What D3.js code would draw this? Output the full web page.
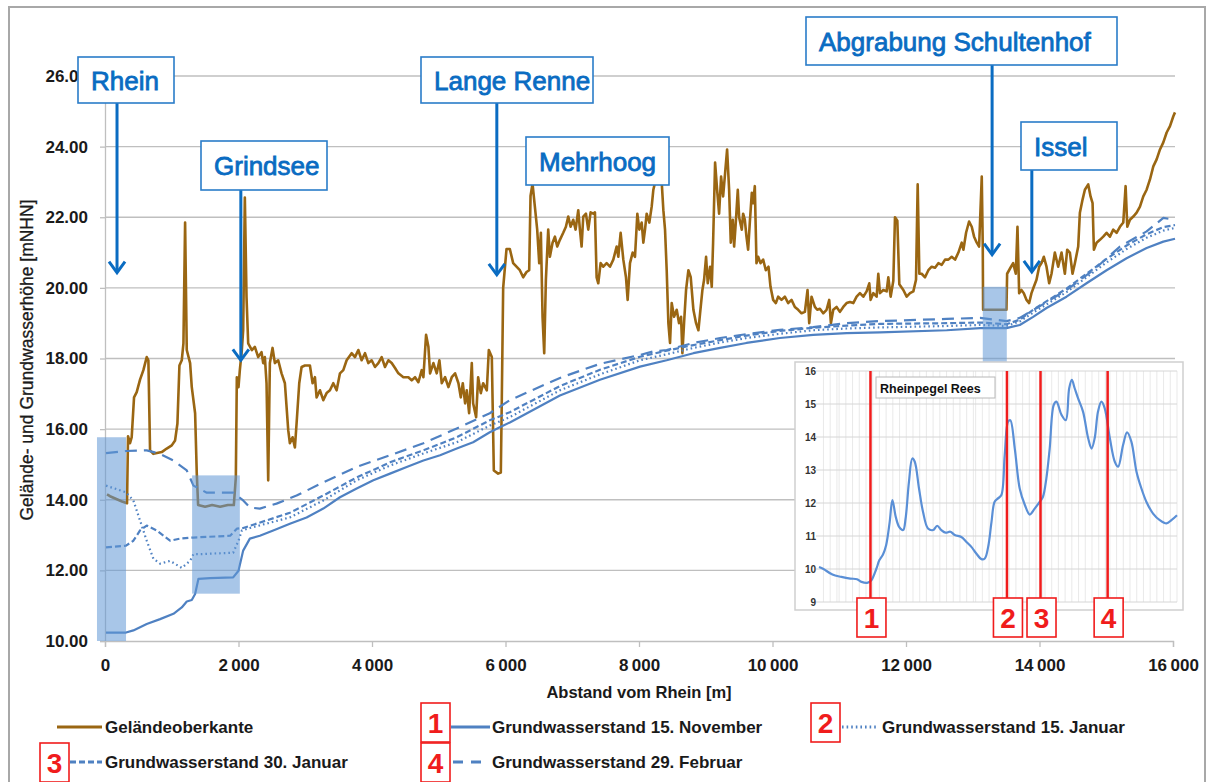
<!DOCTYPE html>
<html>
<head>
<meta charset="utf-8">
<script src="https://cdn.jsdelivr.net/npm/d3@7/dist/d3.min.js"></script>
<style>
  body { margin: 0; background: #fff; }
  svg { display: block; font-family: "Liberation Sans", Arial, sans-serif; }
</style>
</head>
<body>
<svg id="chart" width="1212" height="782"></svg>
<script>
// ---- data (distance from Rhine in m, elevation in mNHN) ----
const terrain = [[30,14.15],[75,14.1],[135,14.05],[195,14.0],[255,13.95],[330,13.9],[345,15.8],[375,15.6],[400,15.77],[435,16.9],[475,17.05],[525,17.4],[575,17.67],[625,18.04],[650,17.95],[675,15.4],[725,15.3],[850,15.35],[925,15.45],[1000,15.54],[1050,15.68],[1085,16.16],[1115,17.8],[1150,17.95],[1175,18.43],[1200,21.85],[1225,18.24],[1275,17.87],[1300,17.19],[1350,16.45],[1375,14.74],[1395,13.85],[1500,13.8],[1605,13.85],[1725,13.8],[1840,13.85],[1930,13.85],[1960,14.63],[1975,17.47],[2000,17.19],[2020,17.67],[2050,18.24],[2070,18.8],[2095,22.56],[2120,19.75],[2145,18.43],[2200,18.24],[2245,18.33],[2295,18.04],[2345,18.18],[2370,17.87],[2395,18.04],[2420,17.3],[2445,14.55],[2470,17.87],[2510,18.3],[2545,17.87],[2595,17.95],[2645,17.58],[2695,17.3],[2745,15.97],[2770,15.6],[2810,15.77],[2845,15.48],[2870,16.16],[2910,17.3],[2945,17.76],[2995,17.8],[3070,17.8],[3110,17.3],[3145,17.47],[3170,16.9],[3220,17.1],[3270,16.82],[3320,17.02],[3370,17.1],[3420,17.3],[3470,17.1],[3520,17.58],[3570,17.67],[3620,17.95],[3695,18.15],[3745,18.04],[3795,18.24],[3845,17.95],[3895,18.15],[3945,17.87],[3995,17.95],[4045,17.76],[4095,17.87],[4145,18.04],[4195,17.76],[4245,17.95],[4295,17.87],[4345,17.73],[4395,17.58],[4470,17.47],[4545,17.47],[4595,17.38],[4645,17.47],[4695,17.33],[4745,17.67],[4770,17.47],[4810,18.67],[4845,18.33],[4870,17.58],[4920,17.87],[4970,17.58],[5010,17.95],[5045,17.3],[5095,17.47],[5145,17.19],[5195,17.47],[5245,17.58],[5295,17.3],[5330,16.9],[5360,17.3],[5395,16.73],[5420,17.1],[5455,16.45],[5495,17.87],[5515,16.73],[5560,16.34],[5590,17.47],[5630,17.02],[5665,17.3],[5720,17.1],[5750,18.24],[5795,18.04],[5825,14.83],[5890,14.74],[5930,14.77],[5945,16.9],[5965,20.0],[6015,21.1],[6065,21.1],[6115,20.7],[6165,20.6],[6215,20.5],[6265,20.3],[6315,20.45],[6355,20.5],[6375,22.6],[6405,22.95],[6440,22.3],[6475,21.65],[6505,20.7],[6530,21.56],[6555,19.18],[6580,18.15],[6605,20.23],[6640,21.65],[6665,20.88],[6705,21.28],[6740,21.45],[6775,21.17],[6815,21.36],[6865,21.56],[6905,21.73],[6940,22.02],[6975,21.73],[7015,21.93],[7050,21.65],[7090,22.2],[7115,21.65],[7140,21.17],[7165,22.02],[7205,22.1],[7240,21.65],[7275,22.14],[7315,22.1],[7340,22.14],[7365,20.3],[7390,20.13],[7425,20.7],[7465,20.6],[7515,20.7],[7565,20.6],[7615,20.8],[7665,21.17],[7690,20.88],[7725,21.56],[7765,20.8],[7805,20.3],[7830,19.66],[7865,20.7],[7905,21.0],[7940,20.88],[7975,22.1],[8005,21.65],[8040,21.85],[8065,21.28],[8090,21.65],[8115,22.1],[8155,21.85],[8190,22.3],[8215,22.78],[8240,22.98],[8340,23.0],[8365,22.2],[8390,21.65],[8415,20.5],[8440,19.0],[8465,18.44],[8490,19.57],[8525,19.18],[8565,19.38],[8600,19.0],[8630,19.18],[8650,18.15],[8675,19.0],[8705,19.94],[8740,20.5],[8775,20.3],[8815,19.38],[8855,19.0],[8890,18.8],[8915,19.28],[8950,19.94],[8975,20.23],[9005,20.88],[9030,20.13],[9065,20.6],[9090,20.03],[9110,21.28],[9140,23.55],[9170,22.78],[9200,22.1],[9230,23.15],[9260,22.59],[9290,23.25],[9320,23.92],[9350,22.78],[9375,21.28],[9405,21.93],[9425,21.17],[9450,21.85],[9480,22.78],[9500,22.0],[9540,21.65],[9560,22.1],[9585,21.93],[9610,21.45],[9635,21.08],[9660,21.85],[9690,22.69],[9710,22.4],[9735,22.88],[9760,20.7],[9785,20.88],[9820,20.7],[9860,20.8],[9900,20.5],[9940,20.6],[9970,20.03],[10010,19.66],[10050,19.57],[10085,19.75],[10135,19.66],[10185,19.75],[10235,19.57],[10285,19.66],[10335,19.46],[10385,19.38],[10435,19.28],[10485,19.32],[10525,19.94],[10550,19.0],[10585,19.75],[10635,19.46],[10670,19.38],[10710,19.41],[10760,19.28],[10810,19.38],[10850,19.66],[10875,19.0],[10910,19.38],[10960,19.46],[11010,19.32],[11060,19.46],[11110,19.57],[11160,19.6],[11210,19.57],[11260,19.75],[11310,19.85],[11360,19.75],[11410,19.9],[11450,20.13],[11470,19.66],[11510,19.85],[11560,19.75],[11585,20.4],[11610,19.85],[11660,19.94],[11710,19.9],[11735,20.3],[11770,19.75],[11810,20.2],[11835,22.0],[11870,21.9],[11900,20.1],[11960,19.94],[12010,19.75],[12060,19.85],[12110,19.9],[12150,20.23],[12175,22.93],[12200,20.4],[12235,20.4],[12285,20.3],[12335,20.5],[12385,20.6],[12435,20.57],[12485,20.7],[12535,20.65],[12585,20.8],[12635,20.8],[12685,20.88],[12735,20.8],[12785,21.0],[12835,21.28],[12860,21.08],[12900,21.56],[12945,21.88],[12985,21.73],[13020,21.45],[13060,21.28],[13095,21.17],[13135,23.15],[13150,21.17],[13155,19.38],[13330,19.38],[13505,19.38],[13515,20.4],[13565,20.57],[13605,20.7],[13645,20.4],[13670,21.73],[13695,19.85],[13730,19.94],[13765,19.85],[13805,19.66],[13845,19.57],[13880,19.85],[13915,20.03],[13955,20.23],[13995,20.6],[14030,20.7],[14065,20.88],[14105,20.6],[14145,20.13],[14180,20.4],[14230,21.0],[14280,20.6],[14330,21.0],[14380,20.4],[14415,21.08],[14455,21.0],[14495,20.4],[14530,20.7],[14580,21.17],[14605,22.13],[14645,22.5],[14680,22.78],[14730,22.93],[14765,22.59],[14795,22.4],[14815,21.08],[14855,21.28],[14905,21.36],[14955,21.45],[15005,21.56],[15055,21.45],[15105,21.65],[15155,21.56],[15205,21.73],[15255,21.85],[15290,22.88],[15315,21.73],[15355,21.93],[15405,22.02],[15455,22.13],[15505,22.3],[15555,22.59],[15605,22.78],[15655,23.07],[15705,23.44],[15755,23.64],[15805,23.92],[15855,24.12],[15905,24.4],[15955,24.58],[16005,24.86],[16030,24.97]];

const gwNov15 = [[15,10.24],[315,10.24],[425,10.3],[625,10.48],[825,10.62],[1025,10.77],[1150,10.95],[1225,11.12],[1300,11.16],[1350,11.33],[1400,11.76],[1575,11.78],[1920,11.8],[2000,11.99],[2070,12.56],[2170,12.9],[2320,12.98],[2520,13.13],[2770,13.32],[3020,13.5],[3270,13.75],[3520,14.07],[3770,14.32],[4020,14.55],[4270,14.74],[4520,14.93],[4770,15.11],[5020,15.26],[5270,15.45],[5515,15.63],[5765,15.91],[5915,16.05],[6065,16.19],[6815,16.95],[7415,17.4],[8015,17.77],[8415,17.95],[8815,18.15],[9215,18.3],[9610,18.44],[10110,18.58],[10610,18.67],[11110,18.72],[11610,18.74],[12610,18.8],[13110,18.86],[13505,18.86],[13705,18.95],[13905,19.18],[14105,19.43],[14405,19.75],[14705,20.13],[15005,20.5],[15305,20.84],[15605,21.13],[15855,21.31],[16030,21.39]];

const gwJan15 = [[15,14.4],[315,14.21],[425,13.98],[525,13.41],[625,12.84],[725,12.33],[825,12.19],[975,12.27],[1150,12.07],[1275,12.27],[1325,12.46],[1425,12.46],[1920,12.5],[2000,12.84],[2050,13.13],[2170,13.2],[2770,13.5],[3270,13.98],[3770,14.55],[4270,14.97],[4770,15.31],[5270,15.63],[5765,16.1],[6065,16.34],[6815,17.1],[7415,17.55],[8015,17.95],[8415,18.12],[8815,18.3],[9215,18.45],[9610,18.58],[10110,18.7],[10610,18.8],[11110,18.85],[11610,18.88],[12610,18.92],[13110,18.95],[13505,18.92],[13705,19.05],[13905,19.3],[14405,19.88],[14705,20.3],[15005,20.72],[15305,21.1],[15605,21.42],[15855,21.62],[16030,21.7]];

const gwJan30 = [[15,12.65],[315,12.7],[425,12.84],[525,13.13],[625,13.27],[775,13.13],[975,12.84],[1125,12.9],[1325,12.93],[1875,12.98],[1975,13.18],[2070,13.2],[2770,13.63],[3270,14.12],[3770,14.63],[4270,15.06],[4770,15.4],[5270,15.77],[5765,16.25],[6065,16.48],[6815,17.22],[7415,17.68],[8015,18.05],[8415,18.22],[8815,18.38],[9215,18.52],[9610,18.65],[10110,18.78],[10610,18.87],[11110,18.93],[11610,18.98],[12610,19.0],[13110,19.02],[13505,18.97],[13705,19.1],[13905,19.38],[14405,19.98],[14705,20.4],[15005,20.82],[15305,21.2],[15605,21.52],[15855,21.72],[16030,21.78]];

const gwFeb29 = [[15,15.32],[315,15.38],[625,15.4],[825,15.3],[1025,15.11],[1225,14.83],[1325,14.4],[1525,14.2],[1920,14.2],[2070,13.98],[2170,13.78],[2320,13.75],[2570,13.89],[2870,14.12],[3270,14.49],[3770,14.93],[4270,15.26],[4770,15.6],[5270,16.02],[5765,16.45],[6065,16.82],[6815,17.45],[7415,17.85],[8015,18.1],[8215,18.2],[8415,18.24],[8815,18.44],[9215,18.58],[9610,18.69],[10110,18.81],[10610,18.89],[11110,19.0],[11610,19.06],[12610,19.12],[13110,19.15],[13505,19.06],[13705,19.15],[13995,19.47],[14405,19.94],[14805,20.5],[15205,21.17],[15605,21.6],[15855,21.98],[16030,21.93]];

// highlighted zones (m, mNHN)
const zones = [[-120, 315, 10, 15.77], [1305, 2020, 11.34, 14.69], [13150, 13510, 17.9, 20.03]];

// places marked above the profile: name, distance (m), arrow tip (mNHN)
const places = [["Rhein", 180, 20.43], ["Grindsee", 2035, 17.95], ["Lange Renne", 5870, 20.37],
  ["Mehrhoog", null, null], ["Abgrabung Schultenhof", 13290, 20.94], ["Issel", 13885, 20.45]];

const yTicks = [10, 12, 14, 16, 18, 20, 22, 24, 26];
const xTicks = [0, 2000, 4000, 6000, 8000, 10000, 12000, 14000, 16000];

// inset: Rhine gauge Rees, days after 2015-10-23 and water level (m)
const gaugeStart = "2015-10-23";
const gaugeDays = [0,2,6,10,14,17,19,21.5,23.4,25.6,27,28.6,30,31.6,32.8,34.3,35.8,37.6,38.7,40.2,41.7,42.8,44.7,46.5,48.7,51,52.8,54.7,56.6,58.7,60.7,63.6,65.9,68.1,70.3,72.6,74.1,75.6,77.1,78.5,80,81.5,83,84.5,85.5,87.5,89.7,92,94.2,96.4,98.7,100.1,101.6,103.1,104.9,106.1,108.4,110.3,111.8,113,114.3,115.8,118,120.3,121.8,123.2,124.7,126.2,127.7,130,132.2,133.7,135.9,137.7,139.6,141.9,144.1,146.3,149.3,152.3,155.3,157.5,160];
const gaugeLevels = [10.06,10.0,9.83,9.76,9.71,9.69,9.61,9.58,9.66,10.0,10.27,10.44,10.72,11.43,12.09,11.58,11.28,11.18,11.53,12.64,13.35,13.25,12.44,11.73,11.23,11.18,11.31,11.18,11.1,11.13,11.03,10.97,10.82,10.67,10.47,10.3,10.32,10.67,11.43,12.04,12.14,12.24,13.45,14.46,14.51,13.65,12.44,11.94,11.65,11.83,12.04,12.19,12.74,13.65,14.97,15.07,14.67,14.51,15.47,15.73,15.47,15.17,14.77,13.96,13.65,13.96,14.77,15.07,14.87,13.96,13.25,13.1,13.76,14.14,13.86,12.95,12.44,12.04,11.68,11.48,11.38,11.48,11.63];
const gaugeEnd = "2016-03-31";
const gaugeMarks = [["1", "2015-11-15"], ["2", "2016-01-15"], ["3", "2016-01-30"], ["4", "2016-02-29"]];
const gaugeTicks = [9, 10, 11, 12, 13, 14, 15, 16];

const legendNames = ["Geländeoberkante", "Grundwasserstand 15. November", "Grundwasserstand 15. Januar",
  "Grundwasserstand 30. Januar", "Grundwasserstand 29. Februar"];

// ---- styles ----
const BROWN = "#9a6612";
const BLUE = "#4f81c2";
const MARK = "#0a6cc2";
const RED = "#f01c1c";
const GRID = "#bfbfbf";

const series = [
  { data: terrain, color: BROWN, width: 2.6, dash: null },
  { data: gwNov15, color: BLUE, width: 2.2, dash: null },
  { data: gwJan15, color: BLUE, width: 2.2, dash: "1.6,3" },
  { data: gwJan30, color: BLUE, width: 2.2, dash: "6,3" },
  { data: gwFeb29, color: BLUE, width: 2.2, dash: "12,7" }
];

const svg = d3.select("#chart");

// outer frame
svg.append("rect").attr("x", 9).attr("y", 7).attr("width", 1196).attr("height", 790)
  .attr("fill", "none").attr("stroke", "#a8a8a8").attr("stroke-width", 2);

const x = d3.scaleLinear().domain([0, 16000]).range([105, 1173]);
const y = d3.scaleLinear().domain([10, 26]).range([641, 76]);

const de = d3.formatLocale({ decimal: ".", thousands: "\u2009", grouping: [3], currency: ["", ""] });

// gridlines
svg.append("g")
  .selectAll("line")
  .data(yTicks.slice(1))
  .join("line")
  .attr("x1", x(0)).attr("x2", x(16000) + 2)
  .attr("y1", d => y(d)).attr("y2", d => y(d))
  .attr("stroke", GRID).attr("stroke-width", 1.3);

// y axis
svg.append("g")
  .attr("transform", `translate(${x(0)},0)`)
  .call(d3.axisLeft(y).tickValues(yTicks).tickFormat(d3.format(".2f")).tickSize(5).tickPadding(12))
  .call(g => g.select(".domain").attr("stroke", GRID).attr("stroke-width", 1.3))
  .call(g => g.selectAll(".tick line").attr("stroke", GRID).attr("stroke-width", 1.3))
  .call(g => g.selectAll("text").attr("font-size", 17).attr("font-weight", "bold")
    .attr("fill", "#1a1a1a").attr("font-family", "Liberation Sans, Arial"));

// x axis
svg.append("g")
  .attr("transform", `translate(0,${y(10)})`)
  .call(d3.axisBottom(x).tickValues(xTicks).tickFormat(de.format(",d")).tickSize(6).tickPadding(12))
  .call(g => g.select(".domain").attr("stroke", GRID).attr("stroke-width", 1.3))
  .call(g => g.selectAll(".tick line").attr("stroke", GRID).attr("stroke-width", 1.3))
  .call(g => g.selectAll("text").attr("font-size", 17).attr("font-weight", "bold")
    .attr("fill", "#1a1a1a").attr("font-family", "Liberation Sans, Arial"));

// axis titles
svg.append("text")
  .attr("x", x(8000)).attr("y", 698)
  .attr("text-anchor", "middle").attr("font-size", 16.5).attr("font-weight", "bold")
  .attr("fill", "#1a1a1a").text("Abstand vom Rhein [m]");

svg.append("text")
  .attr("transform", "translate(33,360) rotate(-90)")
  .attr("text-anchor", "middle").attr("font-size", 17.5)
  .attr("fill", "#1a1a1a").attr("stroke", "#1a1a1a").attr("stroke-width", 0.3)
  .text("Gelände- und Grundwasserhöhe [mNHN]");

// profile lines
const line = d3.line().x(d => x(d[0])).y(d => y(d[1]));

svg.append("g")
  .selectAll("path")
  .data(series)
  .join("path")
  .attr("d", d => line(d.data))
  .attr("fill", "none")
  .attr("stroke", d => d.color)
  .attr("stroke-width", d => d.width)
  .attr("stroke-dasharray", d => d.dash)
  .attr("stroke-linejoin", "round");

// shaded zones
svg.append("g")
  .selectAll("rect")
  .data(zones)
  .join("rect")
  .attr("x", d => x(d[0]))
  .attr("width", d => x(d[1]) - x(d[0]))
  .attr("y", d => y(d[3]))
  .attr("height", d => y(d[2]) - y(d[3]))
  .attr("fill", "#6197d5")
  .attr("opacity", 0.55);

// ---- inset: Rheinpegel Rees ----
const parse = d3.timeParse("%Y-%m-%d");
const t0 = parse(gaugeStart);
const gauge = gaugeDays.map((d, i) => [new Date(t0.getTime() + d * 864e5), gaugeLevels[i]]);

const gx = d3.scaleTime().domain([t0, parse(gaugeEnd)]).range([819, 1177]);
const gy = d3.scaleLinear().domain([9, 16]).range([602, 371]);

const inset = svg.append("g");
inset.append("rect")
  .attr("x", 795).attr("y", 362).attr("width", 388).attr("height", 248)
  .attr("fill", "#fff").attr("stroke", "#cfcfcf").attr("stroke-width", 1.5);

inset.append("g")
  .selectAll("line")
  .data(d3.timeDay.every(3).range(t0, parse(gaugeEnd)).concat([parse(gaugeEnd)]))
  .join("line")
  .attr("x1", d => gx(d)).attr("x2", d => gx(d))
  .attr("y1", gy(16)).attr("y2", gy(9))
  .attr("stroke", "#e3e3e3").attr("stroke-width", 0.8);

inset.append("g")
  .selectAll("line")
  .data(gaugeTicks)
  .join("line")
  .attr("x1", gx.range()[0] - 3).attr("x2", gx.range()[1])
  .attr("y1", d => gy(d)).attr("y2", d => gy(d))
  .attr("stroke", "#d6d6d6").attr("stroke-width", 1);

inset.append("g")
  .selectAll("text")
  .data(gaugeTicks)
  .join("text")
  .attr("x", 816).attr("y", d => gy(d) + 3.5)
  .attr("text-anchor", "end").attr("font-size", 10).attr("font-weight", "bold")
  .attr("fill", "#333").text(d => d);

inset.append("path")
  .attr("d", d3.line().x(d => gx(d[0])).y(d => gy(d[1])).curve(d3.curveCatmullRom)(gauge))
  .attr("fill", "none").attr("stroke", "#5a8fd6").attr("stroke-width", 2.2);

inset.append("rect")
  .attr("x", 876).attr("y", 377).attr("width", 119).attr("height", 21)
  .attr("fill", "#fff").attr("stroke", "#b8b8b8").attr("stroke-width", 1);
inset.append("text")
  .attr("x", 880).attr("y", 392.5)
  .attr("font-size", 12.5).attr("font-weight", "bold").attr("fill", "#111")
  .text("Rheinpegel Rees");

const marks = inset.append("g")
  .selectAll("g")
  .data(gaugeMarks)
  .join("g")
  .attr("transform", d => `translate(${gx(parse(d[1]))},0)`);

marks.append("line")
  .attr("y1", gy(16)).attr("y2", 598)
  .attr("stroke", RED).attr("stroke-width", 2.5);

function numberBox(sel, w, h) {
  sel.append("rect")
    .attr("x", -w / 2).attr("width", w).attr("height", h)
    .attr("fill", "#fff").attr("stroke", RED).attr("stroke-width", 1.6);
  sel.append("text")
    .attr("x", 0).attr("y", h / 2 + 10)
    .attr("text-anchor", "middle")
    .attr("font-family", "Liberation Sans Narrow, Liberation Sans, Arial")
    .attr("font-size", 28).attr("font-weight", "bold").attr("fill", RED)
    .text(d => d[0]);
}

marks.append("g").attr("transform", "translate(1,598)").call(numberBox, 29, 39);

// ---- place labels and arrows ----
const boxes = {
  "Rhein": [78, 57, 96, 46],
  "Grindsee": [201, 141, 126, 49],
  "Lange Renne": [421, 57, 172, 46],
  "Mehrhoog": [526, 137, 143, 48],
  "Abgrabung Schultenhof": [806, 17, 311, 48],
  "Issel": [1021, 122, 96, 48]
};

const placeG = svg.append("g")
  .selectAll("g")
  .data(places)
  .join("g");

placeG.filter(d => d[1] !== null).each(function (d) {
  const b = boxes[d[0]];
  const ax = x(d[1]);
  const tip = y(d[2]);
  const g = d3.select(this);
  g.append("line")
    .attr("x1", ax).attr("x2", ax).attr("y1", b[1] + b[3]).attr("y2", tip - 1)
    .attr("stroke", MARK).attr("stroke-width", 3);
  g.append("path")
    .attr("d", `M${ax - 8},${tip - 11}L${ax},${tip}L${ax + 8},${tip - 11}`)
    .attr("fill", "none").attr("stroke", MARK).attr("stroke-width", 3);
});

placeG.append("rect")
  .attr("x", d => boxes[d[0]][0]).attr("y", d => boxes[d[0]][1])
  .attr("width", d => boxes[d[0]][2]).attr("height", d => boxes[d[0]][3])
  .attr("fill", "#fff").attr("stroke", "#2a7cc9").attr("stroke-width", 1.6);

placeG.append("text")
  .attr("x", d => boxes[d[0]][0] + 13)
  .attr("y", d => boxes[d[0]][1] + boxes[d[0]][3] / 2 + 9.5)
  .attr("font-size", 26).attr("fill", MARK)
  .attr("stroke", MARK).attr("stroke-width", 0.8)
  .text(d => d[0]);

// ---- legend ----
const legendPos = [
  { x: 57, y: 727, len: 45, box: null },
  { x: 451, y: 727, len: 39, box: [421, 703, "1"] },
  { x: 842, y: 727, len: 34, box: [811, 703, "2"] },
  { x: 70, y: 762, len: 32, box: [40, 743, "3"] },
  { x: 453, y: 762, len: 30, box: [421, 743, "4"] }
];
const legendText = [105, 492, 882, 105, 492];

const legend = svg.append("g")
  .selectAll("g")
  .data(legendNames)
  .join("g");

legend.append("line")
  .attr("x1", (d, i) => legendPos[i].x)
  .attr("x2", (d, i) => legendPos[i].x + legendPos[i].len)
  .attr("y1", (d, i) => legendPos[i].y).attr("y2", (d, i) => legendPos[i].y)
  .attr("stroke", (d, i) => series[i].color)
  .attr("stroke-width", (d, i) => series[i].width + 0.6)
  .attr("stroke-dasharray", (d, i) => i === 4 ? "10,8" : series[i].dash);

legend.append("text")
  .attr("x", (d, i) => legendText[i])
  .attr("y", (d, i) => legendPos[i].y + 6)
  .attr("font-size", 17).attr("font-weight", "bold").attr("fill", "#1a1a1a")
  .text(d => d);

legendPos.forEach(p => {
  if (!p.box) return;
  svg.append("g")
    .datum([p.box[2]])
    .attr("transform", `translate(${p.box[0] + 14.5},${p.box[1]})`)
    .call(numberBox, 29, 39);
});
</script>
</body>
</html>
